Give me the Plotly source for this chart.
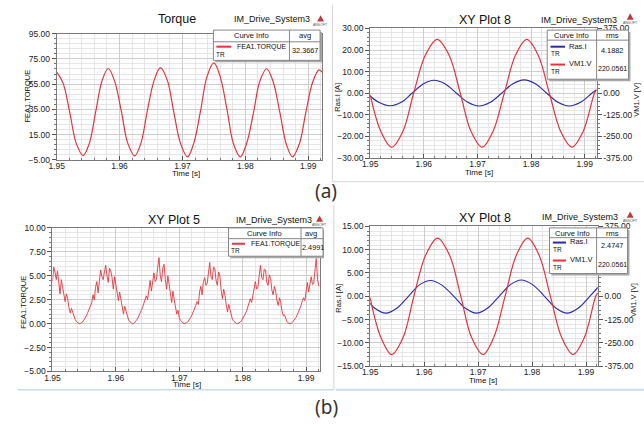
import plotly.graph_objects as go

W, H = 644, 424
FONT = "Liberation Sans"


def X(px):
    return px / W


def Y(py):
    return 1 - py / H


# ---------------- data ----------------
# (a) Torque
torque_a_time = [1.9500, 1.9510, 1.9521, 1.9531, 1.9542, 1.9552, 1.9562, 1.9572, 1.9582, 1.9592,
                 1.9603, 1.9613, 1.9624, 1.9634, 1.9644, 1.9655, 1.9665, 1.9676, 1.9686, 1.9697,
                 1.9708, 1.9718, 1.9729, 1.9739, 1.9750, 1.9760, 1.9771, 1.9781, 1.9792, 1.9802,
                 1.9813, 1.9823, 1.9834, 1.9844, 1.9855, 1.9865, 1.9875, 1.9886, 1.9896, 1.9907,
                 1.9917, 1.9922]
torque_a = [64.5, 56.0, 32.0, 8.3, -1.5, 8.3, 33.0, 57.5, 67.4, 57.6,
            33.0, 8.3, -1.8, 8.3, 33.5, 58.0, 68.0, 58.0, 33.5, 8.0,
            -2.5, 8.3, 34.5, 61.0, 71.8, 61.0, 34.5, 8.0, -2.5, 8.0,
            32.5, 57.3, 67.2, 57.3, 32.5, 7.8, -2.5, 7.8, 32.0, 56.5,
            66.3, 64.5]

# (a) Ras.I current
cur_a_time = [1.9500, 1.9516, 1.9537, 1.9558, 1.9578, 1.9599, 1.9619, 1.9640, 1.9661, 1.9682,
              1.9703, 1.9724, 1.9745, 1.9766, 1.9787, 1.9808, 1.9829, 1.9850, 1.9871, 1.9892,
              1.9913, 1.9922]
cur_a = [-1.3, -4.2, -5.8, -4.2, 0.0, 4.3, 6.0, 4.3, 0.0, -4.2,
         -5.9, -4.2, 0.0, 4.4, 6.2, 4.4, 0.0, -4.2, -5.9, -4.2,
         0.0, 1.6]

# VM1.V voltage (same in (a) and (b))
volt_time = [1.9500, 1.9520, 1.9540, 1.9561, 1.9581, 1.9603, 1.9625, 1.9647, 1.9668, 1.9688,
             1.9709, 1.9729, 1.9750, 1.9771, 1.9792, 1.9813, 1.9834, 1.9855, 1.9876, 1.9897,
             1.9918, 1.9922]
volt = [-8, -221, -312, -221, 0, 221, 312, 221, 0, -221,
        -312, -221, 0, 221, 312, 221, 0, -221, -312, -221,
        0, 18]

# (b) Torque (noisy), sampled every 0.2 ms from 1.95 s
torque_b = [4.4, 5.9, 5.4, 4.6, 5.5, 4.5, 3.1, 4.6, 3.9, 2.8,
            2.3, 3.1, 2.6, 1.7, 1.1, 1.6, 1.2, 0.7, 0.4, 0.2,
            0.05, 0.0, 0.0, 0.08, 0.2, 0.4, 0.6, 0.9, 1.2, 1.5,
            1.9, 2.2, 3.0, 2.5, 3.8, 4.4, 3.2, 4.3, 5.6, 4.9,
            4.6, 5.4, 6.1, 5.0, 4.3, 5.8, 5.5, 4.8, 3.6, 4.9,
            4.2, 3.1, 2.4, 3.3, 2.6, 1.7, 1.0, 1.8, 1.3, 0.8,
            0.4, 0.2, 0.05, 0.0, 0.0, 0.12, 0.3, 0.5, 0.75, 1.0,
            1.35, 1.7, 2.1, 2.6, 2.9, 2.5, 3.8, 4.5, 3.4, 4.7,
            5.3, 4.4, 4.6, 5.9, 6.9, 5.0, 4.4, 5.8, 6.2, 4.6,
            3.6, 5.0, 4.3, 3.2, 2.2, 3.4, 2.5, 1.6, 1.0, 1.4,
            0.6, 0.35, 0.15, 0.05, 0.0, 0.03, 0.1, 0.25, 0.4, 0.65,
            0.9, 1.2, 1.5, 1.9, 2.3, 2.0, 3.3, 3.9, 3.0, 4.4,
            4.8, 4.0, 4.2, 5.5, 6.4, 4.9, 4.6, 5.9, 5.8, 4.5,
            4.0, 5.4, 5.0, 3.5, 2.6, 3.6, 3.0, 2.0, 1.2, 2.0,
            1.4, 0.7, 0.4, 0.25, 0.1, 0.02, 0.0, 0.05, 0.15, 0.3,
            0.5, 0.75, 1.0, 1.3, 1.7, 2.1, 2.6, 2.2, 2.9, 3.7,
            4.4, 3.6, 3.8, 5.0, 6.1, 4.8, 4.6, 5.7, 5.6, 4.3,
            4.0, 5.1, 4.7, 3.5, 3.0, 3.9, 3.4, 2.4, 1.9, 2.7,
            2.2, 1.3, 0.8, 0.9, 0.5, 0.2, 0.05, 0.0, 0.0, 0.1,
            0.25, 0.4, 0.65, 0.9, 1.2, 1.5, 1.9, 2.4, 2.7, 2.4,
            3.6, 4.3, 3.3, 4.0, 4.9, 4.1, 4.2, 5.6, 6.8, 4.6,
            3.9]
torque_b_time = [round(1.95 + 0.0002 * i, 4) for i in range(len(torque_b))]

# (b) Ras.I current
cur_b_time = [1.9500, 1.9508, 1.9529, 1.9550, 1.9571, 1.9592, 1.9612, 1.9633, 1.9655, 1.9676,
              1.9697, 1.9718, 1.9739, 1.9760, 1.9780, 1.9801, 1.9823, 1.9844, 1.9865, 1.9886,
              1.9907, 1.9922]
cur_b = [-1.5, -2.5, -3.6, -2.5, 0.0, 2.5, 3.4, 2.4, 0.0, -2.5,
         -3.6, -2.5, 0.0, 2.5, 3.5, 2.5, 0.0, -2.5, -3.6, -2.5,
         0.0, 1.9]

# right-axis (VM1.V) tick values and labels; 125/250 sit under the legend box
volt_ticks = [-375, -250, -125, 0, 125, 250, 375]
volt_ticktext = ["-375.00", "-250.00", "-125.00", "0.00", "", "", "375.00"]

# legend / label texts
stat_torque_a = "32.3667"
stat_torque_b = "2.4991"
rms_cur_a = "4.1882"
rms_cur_b = "2.4747"
rms_volt = "220.0561"

RED = "#e8333b"
BLUE = "#2b2ba6"

fig = go.Figure()
fig.add_trace(go.Scatter(x=torque_a_time, y=torque_a, mode="lines", line=dict(color=RED, width=1.2, shape="spline"),
                         xaxis="x", yaxis="y"))
fig.add_trace(go.Scatter(x=cur_a_time, y=cur_a, mode="lines", line=dict(color=BLUE, width=1.1, shape="spline"),
                         xaxis="x2", yaxis="y2"))
fig.add_trace(go.Scatter(x=volt_time, y=volt, mode="lines", line=dict(color=RED, width=1.2, shape="spline"),
                         xaxis="x2", yaxis="y3"))
fig.add_trace(go.Scatter(x=torque_b_time, y=torque_b, mode="lines", line=dict(color=RED, width=0.9),
                         xaxis="x3", yaxis="y4"))
fig.add_trace(go.Scatter(x=cur_b_time, y=cur_b, mode="lines", line=dict(color=BLUE, width=1.1, shape="spline"),
                         xaxis="x4", yaxis="y5"))
fig.add_trace(go.Scatter(x=volt_time, y=volt, mode="lines", line=dict(color=RED, width=1.2, shape="spline"),
                         xaxis="x4", yaxis="y6"))

TICKFONT = dict(family=FONT, size=8.5, color="#222")
GRID = "#cdcdcd"
MGRID = "#e6e6e6"
LINE = "#7a7a7a"


def xax(px0, px1, anchor):
    return dict(domain=[X(px0), X(px1)], anchor=anchor, range=[1.95, 1.9922],
                tickmode="linear", tick0=1.95, dtick=0.01, tickformat=".2f",
                ticks="inside", ticklen=4, tickcolor="#555", ticklabelstandoff=-2,
                showline=True, linecolor=LINE, linewidth=1, mirror=True,
                showgrid=True, gridcolor=GRID, zeroline=False, tickfont=TICKFONT,
                minor=dict(tick0=1.95, dtick=0.002, showgrid=True, gridcolor=MGRID,
                           ticks="inside", ticklen=2, tickcolor="#777"))


def yax(py0, py1, anchor, lo, hi, dt, mdt):
    return dict(domain=[Y(py1), Y(py0)], anchor=anchor, range=[lo, hi],
                tickmode="linear", tick0=lo, dtick=dt, tickformat=".2f",
                ticks="outside", ticklen=4, tickcolor="#555",
                showline=True, linecolor=LINE, linewidth=1, mirror=True,
                showgrid=True, gridcolor=GRID, zeroline=False, tickfont=TICKFONT,
                minor=dict(tick0=lo, dtick=mdt, showgrid=True, gridcolor=MGRID,
                           ticks="outside", ticklen=2, tickcolor="#777"))


def yright(over, anchor):
    return dict(overlaying=over, anchor=anchor, side="right", range=[-375, 375],
                tickmode="array", tickvals=volt_ticks, ticktext=volt_ticktext,
                ticks="outside", ticklen=4, tickcolor="#555",
                showline=True, linecolor=LINE, linewidth=1,
                showgrid=False, zeroline=False, tickfont=TICKFONT,
                minor=dict(tick0=-375, dtick=25, ticks="outside", ticklen=2, tickcolor="#777"))


fig.update_layout(
    xaxis=xax(49.3, 318, "y"),
    yaxis=yax(29.3, 158.7, "x", -5, 95, 20, 4),
    xaxis2=xax(366.7, 596, "y2"),
    yaxis2=yax(24, 156.7, "x2", -30, 30, 10, 2),
    yaxis3=yright("y2", "x2"),
    xaxis3=xax(45, 316, "y4"),
    yaxis4=yax(228.3, 375.3, "x3", -5, 10, 2.5, 0.5),
    xaxis4=xax(366.7, 597.3, "y5"),
    yaxis5=yax(226.7, 370, "x4", -15, 15, 5, 1),
    yaxis6=yright("y5", "x4"),
)

shapes = []
annotations = []


def rect(x0, y0, x1, y1, fill="white", color="#888", width=1):
    shapes.append(dict(type="rect", xref="paper", yref="paper", x0=X(x0), x1=X(x1), y0=Y(y1), y1=Y(y0),
                       fillcolor=fill, line=dict(color=color, width=width), layer="above"))


def line(x0, y0, x1, y1, color="#888", width=1):
    shapes.append(dict(type="line", xref="paper", yref="paper", x0=X(x0), y0=Y(y0), x1=X(x1), y1=Y(y1),
                       line=dict(color=color, width=width), layer="above"))


def text(px, py, s, size, color="#111", xanchor="center", angle=0, family=FONT):
    annotations.append(dict(x=X(px), y=Y(py), xref="paper", yref="paper", text=s, showarrow=False,
                            xanchor=xanchor, yanchor="middle", textangle=angle, borderpad=0,
                            font=dict(size=size, color=color, family=family)))


def logo(px, py):
    shapes.append(dict(type="path", xref="paper", yref="paper",
                       path=f"M {X(px-3.5)},{Y(py+3)} L {X(px+3.5)},{Y(py+3)} L {X(px)},{Y(py-3.5)} Z",
                       fillcolor="#c23a3a", line=dict(width=0), layer="above"))
    text(px, py + 6, "ANSOFT", 3.5, color="#555")


# panel frames
line(328.5, 0, 328.5, 181, "#d4d4d4", 1)
line(328.5, 181, 644, 181, "#d4d4d4", 1)
line(10, 394, 330, 394, "#c9dcee", 1.5)
line(330, 205, 330, 394, "#d4d4d4", 1)
line(332, 394, 644, 394, "#c9dcee", 2)

# ---- legend (a) torque
rect(210, 27.7, 318, 58.7, fill="#a8a8a8", color="#a8a8a8", width=0)
rect(208, 25.7, 316, 56.7, fill="white", color="#888")
line(285, 25.7, 285, 56.7)
line(208, 37.7, 316, 37.7)
text(246.5, 31.7, "Curve Info", 7.5)
text(300.5, 31.7, "avg", 7.5)
line(211, 42.7, 226, 42.7, RED, 2)
text(231, 43, "FEA1.TORQUE", 7, xanchor="left")
text(209.5, 51, "TR", 6.5, xanchor="left")
text(300.5, 47, stat_torque_a, 7.3)

# ---- legend (a) current/voltage
rect(548, 27.7, 630.3, 78, fill="#a8a8a8", color="#a8a8a8", width=0)
rect(546, 25.7, 628.3, 76, fill="white", color="#888")
line(596, 25.7, 596, 76)
line(546, 36, 628.3, 36)
text(571, 31.5, "Curve Info", 7.5)
text(612, 31.5, "rms", 7.5)
line(549.3, 42.7, 564, 42.7, BLUE, 2)
text(567, 42, "Ras.I", 7.5, xanchor="left")
text(548.5, 50, "TR", 6.5, xanchor="left")
text(612, 47, rms_cur_a, 7.3)
line(549.3, 61, 564, 61, RED, 2)
text(567, 60, "VM1.V", 7.5, xanchor="left")
text(548.5, 68.5, "TR", 6.5, xanchor="left")
text(612.2, 65.5, rms_volt, 7)

# ---- legend (b) torque
rect(225.3, 230.3, 320, 259.3, fill="#a8a8a8", color="#a8a8a8", width=0)
rect(223.3, 228.3, 319, 257.3, fill="white", color="#888")
line(296.7, 228.3, 296.7, 257.3)
line(223.3, 239.3, 319, 239.3)
text(260, 234, "Curve Info", 7.5)
text(307, 234, "avg", 7.5)
line(226.7, 244.5, 240, 244.5, RED, 2)
text(245.5, 244.5, "FEA1.TORQUE", 7, xanchor="left")
text(225, 251.7, "TR", 6.5, xanchor="left")
text(309, 248.3, stat_torque_b, 7.3)

# ---- legend (b) current/voltage
rect(550.3, 230.3, 629.3, 277, fill="#a8a8a8", color="#a8a8a8", width=0)
rect(548.3, 228.3, 627.3, 275, fill="white", color="#888")
line(596, 228.3, 596, 275)
line(548.3, 238.3, 627.3, 238.3)
text(572, 233.8, "Curve Info", 7.5)
text(611.7, 233.8, "rms", 7.5)
line(551.7, 243.3, 565, 243.3, BLUE, 2)
text(568, 242.5, "Ras.I", 7.5, xanchor="left")
text(551, 250.7, "TR", 6.5, xanchor="left")
text(611.7, 246.7, rms_cur_b, 7.3)
line(551.7, 261.7, 565, 261.7, RED, 2)
text(568, 261, "VM1.V", 7.5, xanchor="left")
text(551, 268.5, "TR", 6.5, xanchor="left")
text(611.9, 266, rms_volt, 7)

# titles
text(170.7, 14.3, "Torque", 12.5)
text(267.5, 14, "IM_Drive_System3", 9)
text(482.7, 15, "XY Plot 8", 12.5)
text(578, 15, "IM_Drive_System3", 9)
text(168.3, 220, "XY Plot 5", 12.5)
text(269.5, 220, "IM_Drive_System3", 9)
text(483, 218.3, "XY Plot 8", 12.5)
text(579, 217.3, "IM_Drive_System3", 9)
logo(316.5, 14)
logo(630, 12)
logo(315.5, 219)
logo(630, 215)

# axis titles
text(20, 93, "FEA1.TORQUE", 7.5, angle=-90)
text(180, 173, "Time [s]", 8)
text(333.5, 94.5, "Ras.I [A]", 7.5, angle=-90)
text(637, 97, "VM1.V [V]", 7.5, angle=-90)
text(476.7, 172, "Time [s]", 8)
text(16, 304, "FEA1.TORQUE", 7.5, angle=-90)
text(181, 388.5, "Time [s]", 8)
text(335, 300, "Ras.I [A]", 7.5, angle=-90)
text(634, 302, "VM1.V [V]", 7.5, angle=-90)
text(481, 385, "Time [s]", 8)

# sub-figure labels
text(322, 190, "(a)", 19, color="#333", family="Noto Sans")
text(322, 412, "(b)", 19, color="#333", family="Noto Sans")

fig.update_layout(width=W, height=H, margin=dict(l=0, r=0, t=0, b=0),
                  paper_bgcolor="white", plot_bgcolor="white", showlegend=False,
                  shapes=shapes, annotations=annotations, font=dict(family=FONT))

fig.write_html("out.html", config={"displayModeBar": False},
               post_script="document.body.style.margin='0';document.body.style.padding='0';"
                           "document.body.style.overflow='hidden';")
